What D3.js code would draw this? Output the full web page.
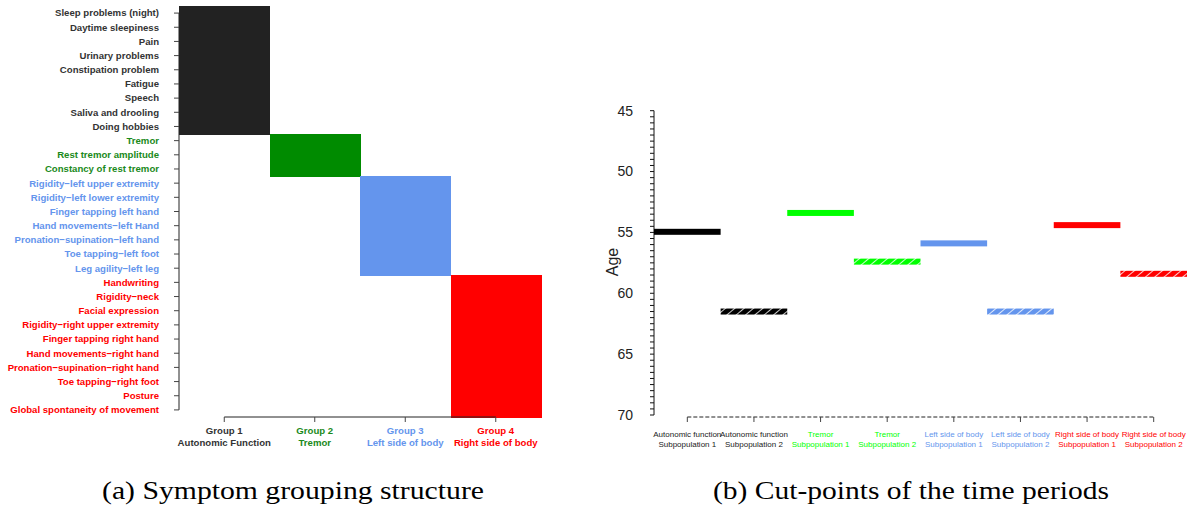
<!DOCTYPE html>
<html>
<head>
<meta charset="utf-8">
<script src="https://cdn.jsdelivr.net/npm/d3@7"></script>
<style>
  body { margin: 0; background: #fff; }
  svg { display: block; }
</style>
</head>
<body>
<div id="chart"></div>
<script>
// ---- data ----
const symptoms = [
  "Sleep problems (night)", "Daytime sleepiness", "Pain", "Urinary problems",
  "Constipation problem", "Fatigue", "Speech", "Saliva and drooling", "Doing hobbies",
  "Tremor", "Rest tremor amplitude", "Constancy of rest tremor",
  "Rigidity\u2212left upper extremity", "Rigidity\u2212left lower extremity",
  "Finger tapping left hand", "Hand movements\u2212left Hand",
  "Pronation\u2212supination\u2212left hand", "Toe tapping\u2212left foot", "Leg agility\u2212left leg",
  "Handwriting", "Rigidity\u2212neck", "Facial expression", "Rigidity\u2212right upper extremity",
  "Finger tapping right hand", "Hand movements\u2212right hand",
  "Pronation\u2212supination\u2212right hand", "Toe tapping\u2212right foot", "Posture",
  "Global spontaneity of movement"
];
const symptomGroup = [0,0,0,0,0,0,0,0,0, 1,1,1, 2,2,2,2,2,2,2, 3,3,3,3,3,3,3,3,3,3];
const groupNames = [["Group 1", "Autonomic Function"], ["Group 2", "Tremor"],
                    ["Group 3", "Left side of body"], ["Group 4", "Right side of body"]];
const blockColors = ["#222222", "#008B00", "#6495ED", "#FF0000"];
const textColors = ["#333333", "#1a8a1a", "#6495ED", "#FF0000"];

const subpops = [
  ["Autonomic function", "Subpopulation 1"], ["Autonomic function", "Subpopulation 2"],
  ["Tremor", "Subpopulation 1"], ["Tremor", "Subpopulation 2"],
  ["Left side of body", "Subpopulation 1"], ["Left side of body", "Subpopulation 2"],
  ["Right side of body", "Subpopulation 1"], ["Right side of body", "Subpopulation 2"]
];
const cutAges = [54.95, 61.5, 53.4, 57.4, 55.9, 61.5, 54.4, 58.4];
const subpopColors = ["#000000", "#000000", "#00FF00", "#00FF00", "#6495ED", "#6495ED", "#FF0000", "#FF0000"];
const ageTicks = [45, 50, 55, 60, 65, 70];

const W = 1189, H = 513;
const svg = d3.select("#chart").append("svg").attr("width", W).attr("height", H);
const sans = "'Liberation Sans', Arial, sans-serif";

// hatch patterns for subpopulation 2 bars
const defs = svg.append("defs");
subpopColors.forEach((c, i) => {
  const p = defs.append("pattern").attr("id", "hatch" + i)
    .attr("patternUnits", "userSpaceOnUse").attr("width", 6).attr("height", 6)
    .attr("patternTransform", "rotate(50)");
  p.append("rect").attr("width", 6).attr("height", 6).attr("fill", c);
  p.append("line").attr("x1", 0).attr("y1", 0).attr("x2", 0).attr("y2", 6)
    .attr("stroke", "#fff").attr("stroke-width", 1.6);
});

// ---------- panel (a) ----------
const y = d3.scaleBand().domain(d3.range(symptoms.length)).range([6, 417]);
const x = d3.scaleBand().domain(d3.range(4)).range([179, 541]);

const cells = [];
symptomGroup.forEach((g, r) => cells.push({ r, g }));
svg.append("g").attr("shape-rendering", "crispEdges")
  .selectAll("rect").data(cells).join("rect")
  .attr("x", d => x(d.g))
  .attr("y", d => y(d.r))
  .attr("width", x.bandwidth() + 0.5)
  .attr("height", y.bandwidth() + 1)
  .attr("fill", d => blockColors[d.g]);

// left axis
const ya = svg.append("g");
ya.append("line").attr("x1", 179).attr("x2", 179)
  .attr("y1", y(0) + y.bandwidth() / 2).attr("y2", y(28) + y.bandwidth() / 2)
  .attr("stroke", "#222").attr("stroke-width", 1);
ya.selectAll(".tk").data(d3.range(symptoms.length)).join("line")
  .attr("x1", 174).attr("x2", 179)
  .attr("y1", d => y(d) + y.bandwidth() / 2).attr("y2", d => y(d) + y.bandwidth() / 2)
  .attr("stroke", "#444");
ya.selectAll("text").data(symptoms).join("text")
  .attr("x", 159).attr("y", (d, i) => y(i) + y.bandwidth() / 2)
  .attr("dy", "0.35em").attr("text-anchor", "end")
  .style("font-family", sans).attr("font-weight", "bold").attr("font-size", 9.6)
  .attr("fill", (d, i) => textColors[symptomGroup[i]])
  .text(d => d);

// bottom axis
const xa = svg.append("g");
xa.append("line").attr("x1", x(0) + x.bandwidth() / 2).attr("x2", x(3) + x.bandwidth() / 2)
  .attr("y1", 417).attr("y2", 417).attr("stroke", "#222");
xa.selectAll(".tk").data(d3.range(4)).join("line")
  .attr("x1", d => x(d) + x.bandwidth() / 2).attr("x2", d => x(d) + x.bandwidth() / 2)
  .attr("y1", 417).attr("y2", 422).attr("stroke", "#444");
groupNames.forEach((g, i) => {
  g.forEach((line, j) => {
    xa.append("text")
      .attr("x", x(i) + x.bandwidth() / 2).attr("y", 434 + j * 12)
      .attr("text-anchor", "middle")
      .style("font-family", sans).attr("font-weight", "bold").attr("font-size", 9.6)
      .attr("fill", textColors[i]).text(line);
  });
});

// ---------- panel (b) ----------
const xb = d3.scaleBand().domain(d3.range(8)).range([654, 1187]);
const yb = d3.scaleLinear().domain([45, 70]).range([110.7, 415]);

// y axis with minor ticks
const yAxis = svg.append("g");
yAxis.append("line").attr("x1", 654).attr("x2", 654)
  .attr("y1", yb(45)).attr("y2", yb(70)).attr("stroke", "#111");
yAxis.selectAll(".mt").data(d3.range(45, 70.01, 0.5)).join("line")
  .attr("x1", 650).attr("x2", 654)
  .attr("y1", d => yb(d)).attr("y2", d => yb(d)).attr("stroke", "#111");
yAxis.selectAll("text").data(ageTicks).join("text")
  .attr("x", 633).attr("y", d => yb(d)).attr("dy", "0.35em")
  .attr("text-anchor", "end").style("font-family", sans).attr("font-size", 14)
  .attr("fill", "#222").text(d => d);
svg.append("text")
  .attr("transform", `translate(618,262) rotate(-90)`)
  .attr("text-anchor", "middle").style("font-family", sans).attr("font-size", 16)
  .attr("fill", "#222").text("Age");

// x axis (dashed)
const xAxisB = svg.append("g");
xAxisB.append("line")
  .attr("x1", xb(0) + xb.bandwidth() / 2).attr("x2", xb(7) + xb.bandwidth() / 2)
  .attr("y1", 417).attr("y2", 417)
  .attr("stroke", "#222").attr("stroke-dasharray", "4,2");
xAxisB.selectAll(".tk").data(d3.range(8)).join("line")
  .attr("x1", d => xb(d) + xb.bandwidth() / 2).attr("x2", d => xb(d) + xb.bandwidth() / 2)
  .attr("y1", 417).attr("y2", 422).attr("stroke", "#444");
subpops.forEach((s, i) => {
  s.forEach((line, j) => {
    xAxisB.append("text")
      .attr("x", xb(i) + xb.bandwidth() / 2).attr("y", 437 + j * 9.5)
      .attr("text-anchor", "middle").style("font-family", sans).attr("font-size", 8)
      .attr("fill", i < 2 ? "#222" : subpopColors[i]).text(line);
  });
});

// cut-point bars
svg.append("g").selectAll("rect").data(cutAges).join("rect")
  .attr("x", (d, i) => xb(i))
  .attr("y", d => yb(d) - 3)
  .attr("width", xb.bandwidth())
  .attr("height", 6)
  .attr("fill", (d, i) => i % 2 === 0 ? subpopColors[i] : `url(#hatch${i})`);

// ---------- captions ----------
const serif = "'Liberation Serif', 'Times New Roman', serif";
svg.append("text").attr("x", 293).attr("y", 499).attr("text-anchor", "middle")
  .style("font-family", serif).attr("font-size", 25)
  .attr("textLength", 382).attr("lengthAdjust", "spacingAndGlyphs")
  .text("(a) Symptom grouping structure");
svg.append("text").attr("x", 911).attr("y", 499).attr("text-anchor", "middle")
  .style("font-family", serif).attr("font-size", 25)
  .attr("textLength", 396).attr("lengthAdjust", "spacingAndGlyphs")
  .text("(b) Cut-points of the time periods");
</script>
</body>
</html>
